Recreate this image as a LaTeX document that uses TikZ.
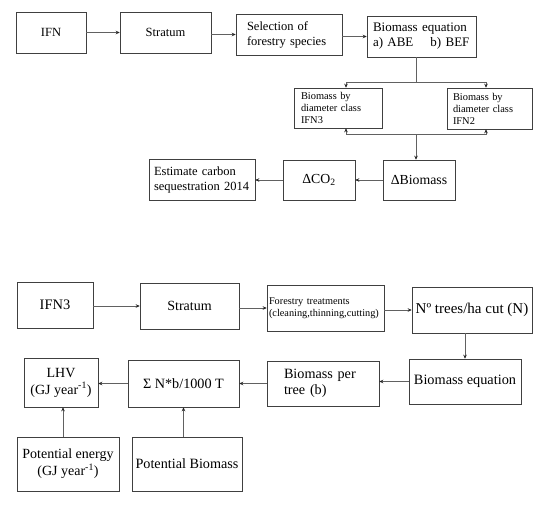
\documentclass[tikz,border=0pt]{standalone}
\usepackage{fontspec}
\setmainfont{Liberation Serif}
\usetikzlibrary{arrows.meta}
\newcommand{\fsz}[2]{\fontsize{#1}{#2}\selectfont}

\begin{document}
\begin{tikzpicture}[x=1pt,y=-1pt,
        box/.style={draw=black!75, line width=0.6pt, inner sep=0pt, align=center},
        lbox/.style={box, align=left, inner xsep=#1},
        link/.style={draw=black!62, line width=0.7pt, -{Stealth[length=4pt,width=3.6pt,black!85]}},
        wire/.style={draw=black!62, line width=0.7pt}]
    \useasboundingbox (0,0) rectangle (550,506);

    % carbon sequestration
    \node[box, minimum width=70, minimum height=41, font=\fsz{12.5}{15}] (ifn) at (51,32.5) {IFN};
    \node[box, minimum width=91, minimum height=41, font=\fsz{12.5}{15}] (strat) at (165.5,32.5) {Stratum};
    \node[lbox=11pt, text width=84, minimum height=41, font=\fsz{12.5}{15}] (sel) at (289,34.5) {Selection of\\forestry species};
    \node[lbox=6pt, text width=97, minimum height=41, font=\fsz{13}{15}] (beq) at (421.5,36.5) {Biomass equation\\a) ABE\hspace{17pt}b) BEF};
    \node[lbox=7pt, text width=74, minimum height=40, font=\fsz{10.4}{12}] (dcl3) at (338,108) {Biomass by\\diameter class\\IFN3};
    \node[lbox=6pt, text width=73, minimum height=41, font=\fsz{10.4}{12}] (dcl2) at (489.5,108.5) {Biomass by\\diameter class\\IFN2};
    \node[box, minimum width=72, minimum height=40, font=\fsz{13.8}{16}] (dbio) at (419,180) {ΔBiomass};
    \node[box, minimum width=72, minimum height=40, font=\fsz{13.8}{16}] (dco) at (319,180) {ΔCO\textsubscript{2}};
    \node[lbox=5pt, text width=96, minimum height=41, font=\fsz{12.5}{15}] (est) at (202,179.5) {Estimate carbon\\sequestration 2014};

    \coordinate (split) at (416,82);
    \coordinate (join) at (416,134);

    \foreach \a/\b in {ifn/strat, strat/sel, sel/beq}{
        \draw[link] (\a.east |- \b.west) -- (\b.west);
    }
    \draw[wire] (beq.south -| split) -- (split);
    \draw[link] (split) -| ([xshift=8pt]dcl3.north);
    \draw[link] (split) -| ([xshift=-3.5pt]dcl2.north);
    \draw[link] (join) -| ([xshift=8pt]dcl3.south);
    \draw[link] (join) -| ([xshift=-3.5pt]dcl2.south);
    \draw[link] (join) -- (join |- dbio.north);
    \foreach \a/\b in {dbio/dco, dco/est}{
        \draw[link] (\a.west) -- (\a.west -| \b.east);
    }

    % energy potential
    \node[box, minimum width=76, minimum height=46, font=\fsz{14.5}{17}] (ifn3) at (55,305) {IFN3};
    \node[box, minimum width=99, minimum height=46, font=\fsz{14}{17}] (strat2) at (189.5,306) {Stratum};
    \node[lbox=2pt, text width=113, minimum height=46, font=\fsz{10.3}{12.5}] (treat) at (325.5,308) {Forestry treatments\\(cleaning,thinning,cutting)};
    \node[box, minimum width=120, minimum height=46, font=\fsz{15}{17}] (ntree) at (472,310) {Nº trees/ha cut (N)};
    \node[box, minimum width=112, minimum height=45, font=\fsz{14.3}{17}] (beq2) at (465,381.5) {Biomass equation};
    \node[lbox=17pt, text width=78, minimum height=45, font=\fsz{14.2}{15.5}] (bpt) at (323,383.5) {Biomass per\\tree (b)};
    \node[box, minimum width=111, minimum height=47, font=\fsz{14.2}{17}] (sum) at (183.5,383.5) {Σ N*b/1000 T};
    \node[box, minimum width=74, minimum height=49, font=\fsz{14}{17}] (lhv) at (61,382.5) {LHV\\(GJ year\textsuperscript{-1})};
    \node[box, minimum width=102, minimum height=54, font=\fsz{14}{17}] (pen) at (68,464) {Potential energy\\(GJ year\textsuperscript{-1})};
    \node[box, minimum width=110, minimum height=54, font=\fsz{14.2}{17}] (pbio) at (187,464) {Potential Biomass};

    \foreach \a/\b in {ifn3/strat2, strat2/treat, treat/ntree}{
        \draw[link] (\a.east |- \b.west) -- (\b.west);
    }
    \draw[link] (ntree.south -| beq2.north) -- (beq2.north);
    \foreach \a/\b in {beq2/bpt, bpt/sum, sum/lhv}{
        \draw[link] (\a.west) -- (\a.west -| \b.east);
    }
    \draw[link] ([xshift=2pt]lhv.south |- pen.north) -- ([xshift=2pt]lhv.south);
    \draw[link] (sum.south |- pbio.north) -- (sum.south);
\end{tikzpicture}
\end{document}
